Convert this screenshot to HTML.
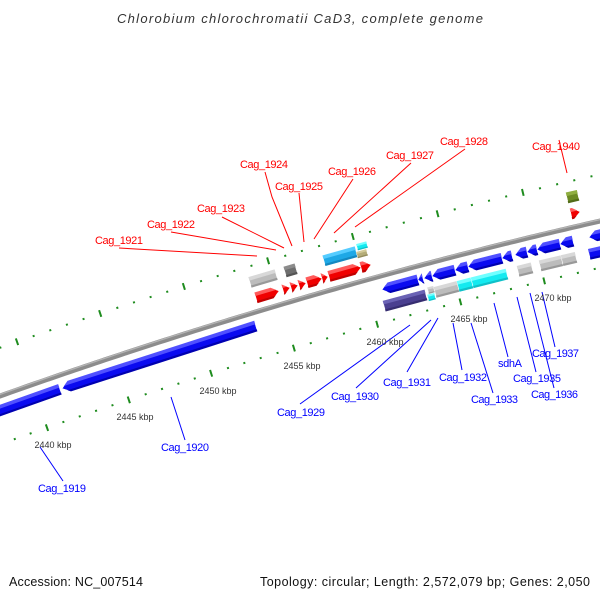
<!DOCTYPE html>
<html><head><meta charset="utf-8"><style>
html,body{margin:0;padding:0;background:#fff;width:600px;height:600px;overflow:hidden}
svg{display:block}
text{font-family:"Liberation Sans","DejaVu Sans",sans-serif}
</style></head><body>
<svg id="s" width="600" height="600" viewBox="0 0 600 600" xmlns="http://www.w3.org/2000/svg">
<rect width="600" height="600" fill="#fff"/>
<g id="ticks"></g>
<g id="bb"></g>
<g id="genes"></g>
<g stroke="#ff0000" stroke-width="1" fill="none">
<polyline points="119,248 257,256"/>
<polyline points="171,232 276,250"/>
<polyline points="222,217 284,248"/>
<polyline points="265,172 272,197 292,246"/>
<polyline points="299,193 304,242"/>
<polyline points="353,179 314,239"/>
<polyline points="411,163 334,233"/>
<polyline points="465,149 355,227"/>
<polyline points="559,140 567,173"/>
</g>
<g stroke="#0000ff" stroke-width="1" fill="none">
<polyline points="40,447 63,481"/>
<polyline points="171,397 185,440"/>
<polyline points="410,325 300,404"/>
<polyline points="431,320 356,388"/>
<polyline points="438,318 407,372"/>
<polyline points="453,323 462,370"/>
<polyline points="471,323 493,393"/>
<polyline points="494,303 508,357"/>
<polyline points="517,297 536,372"/>
<polyline points="530,293 554,388"/>
<polyline points="542,292 555,347"/>
</g>
<g fill="#ff0000" font-size="11">
<text x="95" y="244" textLength="48">Cag_1921</text>
<text x="147" y="228" textLength="48">Cag_1922</text>
<text x="197" y="212" textLength="48">Cag_1923</text>
<text x="240" y="168" textLength="48">Cag_1924</text>
<text x="275" y="190" textLength="48">Cag_1925</text>
<text x="328" y="175" textLength="48">Cag_1926</text>
<text x="386" y="159" textLength="48">Cag_1927</text>
<text x="440" y="145" textLength="48">Cag_1928</text>
<text x="532" y="150" textLength="48">Cag_1940</text>
</g>
<g fill="#0000ff" font-size="11">
<text x="38" y="492" textLength="48">Cag_1919</text>
<text x="161" y="451" textLength="48">Cag_1920</text>
<text x="277" y="416" textLength="48">Cag_1929</text>
<text x="331" y="400" textLength="48">Cag_1930</text>
<text x="383" y="386" textLength="48">Cag_1931</text>
<text x="439" y="381" textLength="48">Cag_1932</text>
<text x="471" y="403" textLength="47">Cag_1933</text>
<text x="498" y="367" textLength="24">sdhA</text>
<text x="513" y="382" textLength="48">Cag_1935</text>
<text x="531" y="398" textLength="47">Cag_1936</text>
<text x="532" y="357" textLength="47">Cag_1937</text>
</g>
<g fill="#333" font-size="9" text-anchor="middle">
<text x="53" y="448">2440 kbp</text>
<text x="135" y="420">2445 kbp</text>
<text x="218" y="394">2450 kbp</text>
<text x="302" y="369">2455 kbp</text>
<text x="385" y="345">2460 kbp</text>
<text x="469" y="322">2465 kbp</text>
<text x="553" y="301">2470 kbp</text>
</g>
<text x="300" y="23" font-size="13" font-style="italic" fill="#333" text-anchor="middle" textLength="366">Chlorobium chlorochromatii CaD3, complete genome</text>
<text x="9" y="586" font-size="12.5" fill="#111" textLength="134">Accession: NC_007514</text>
<text x="260" y="586" font-size="12.5" fill="#111" textLength="330">Topology: circular; Length: 2,572,079 bp; Genes: 2,050</text>
</svg>
<script>
(function(){
var NS="http://www.w3.org/2000/svg";
function Y(x){return 396-0.356*x+1.074e-4*x*x;}
function S(x){return -0.356+2.148e-4*x;}
function P(p,v){var s=S(p),n=Math.sqrt(1+s*s);return [p+v*s/n, Y(p)-v/n];}
function el(parent,tag,attrs){var e=document.createElementNS(NS,tag);for(var k in attrs)e.setAttribute(k,attrs[k]);parent.appendChild(e);return e;}
function poly(parent,pts,v,fill,extra){
  var str=pts.map(function(a){var q=P(a[0],v+a[1]);return q[0].toFixed(2)+","+q[1].toFixed(2);}).join(" ");
  var o={points:str,fill:fill};for(var k in extra)o[k]=extra[k];el(parent,"polygon",o);
}
// backbone
var bb=document.getElementById("bb");
var pts=[],pts2=[];
for(var x=-20;x<=620;x+=5){pts.push(P(x,0).join(","));pts2.push(P(x,1.5).join(","));}
el(bb,"polyline",{points:pts.join(" "),fill:"none",stroke:"#8c8c8c","stroke-width":5});
el(bb,"polyline",{points:pts2.join(" "),fill:"none",stroke:"#b4b4b4","stroke-width":1.3});
// genes
var G=document.getElementById("genes");
var C={
 red:["#f00000","#ff5a5a","#c00000"],
 blue:["#0a0af0","#5050ff","#0000b0"],
 gray:["#bcbcbc","#d8d8d8","#999"],
 dgray:["#6e6e6e","#8c8c8c","#555"],
 sky:["#1ea8e6","#55ccff","#1488c0"],
 cyan:["#14eaf0","#70ffff","#10c0c8"],
 purple:["#4a3f90","#6a62b4","#362d70"],
 khaki:["#b4ac78","#d2ca98","#948c5c"],
 olive:["#6b8a23","#8fae40","#526b18"]
};
function gene(xa,xb,v,h,dir,col,arrow){
  var sm=S((xa+xb)/2),n=Math.sqrt(1+sm*sm);
  var p0=xa - v*sm/n, p1=xb - v*sm/n;
  var L=p1-p0, hl=arrow?Math.min(7,L):0, H=h/2;
  var c=C[col], full, top, bot;
  if(dir>0){
    full=[[p0,-H],[p1-hl,-H],[p1,0],[p1-hl,H],[p0,H]];
    top=[[p0,H],[p1-hl,H],[p1-hl/3,H/3],[p0,H/3]];
    bot=[[p0,-H],[p1-hl,-H],[p1-hl*0.6,-H*0.6],[p0,-H*0.6]];
  }else{
    full=[[p1,-H],[p0+hl,-H],[p0,0],[p0+hl,H],[p1,H]];
    top=[[p1,H],[p0+hl,H],[p0+hl/3,H/3],[p1,H/3]];
    bot=[[p1,-H],[p0+hl,-H],[p0+hl*0.6,-H*0.6],[p1,-H*0.6]];
  }
  poly(G,full,v,c[0],{stroke:"#fff","stroke-width":0.5});
  poly(G,top,v,c[1],{});
  poly(G,bot,v,c[2],{});
}
var r1=13.5,r2=30,h=11;
// forward row 1 (red)
[[256,279],[283,290],[291,298],[299,306],[307,322],[322,328],[329,361],[361,371],[571,580]].forEach(function(g){gene(g[0],g[1],r1,h,1,"red",true);});
// forward row 2
gene(250,276,r2,h,1,"gray",false);
gene(285,296,r2,h,1,"dgray",false);
gene(324,356,r2,h,1,"sky",false);
gene(357,367,34,6.5,1,"cyan",false);
gene(357,367,26.5,6.5,1,"khaki",false);
gene(567,578,r2,h,1,"olive",false);
// reverse row 1 (blue)
[[-40,60],[62,256],[382,418],[418,423],[424,432],[432,455],[455,468],[468,502],[502,512],[515,527],[527,537],[537,560],[560,573],[589,650]].forEach(function(g){gene(g[0],g[1],-r1,h,-1,"blue",true);});
// reverse row 2
gene(384,426,-r2,h,-1,"purple",false);
gene(428,434,-26.5,6.5,-1,"gray",false);
gene(428,435,-33.5,6.5,-1,"cyan",false);
gene(435,458,-r2,h,-1,"gray",false);
gene(458,472,-r2,h,-1,"cyan",false);
gene(472,507,-r2,h,-1,"cyan",false);
gene(518,532,-r2,h,-1,"gray",false);
gene(540,562,-r2,h,-1,"gray",false);
gene(562,576,-r2,h,-1,"gray",false);
gene(589,650,-r2,h,-1,"blue",false);
// ticks
var T=document.getElementById("ticks");
var xs=[],ss=[],acc=0;
for(var x=-100;x<=700;x+=0.5){xs.push(x);ss.push(acc);var s=S(x);acc+=0.5*Math.sqrt(1+s*s);}
function Sx(x){var i=Math.round((x+100)/0.5);return ss[i];}
function invS(v){for(var i=1;i<ss.length;i++){if(ss[i]>=v)return xs[i];}return xs[xs.length-1];}
var x2445=114.3, x2470=547-13.7;
var L=(Sx(x2470)-Sx(x2445))/25, s0=Sx(x2445);
for(var k=2434;k<=2478;k++){
  var xb=invS(s0+(k-2445)*L);
  var major=(k%5===0);
  [45.5,-45.5].forEach(function(v){
    var len=major?3.5:1;
    var a=P(xb,v-len),b=P(xb,v+len);
    if(a[0]<-5||a[0]>605)return;
    el(T,"line",{x1:a[0],y1:a[1],x2:b[0],y2:b[1],stroke:"#1e8c1e","stroke-width":2});
  });
}
})();
</script>
</body></html>
